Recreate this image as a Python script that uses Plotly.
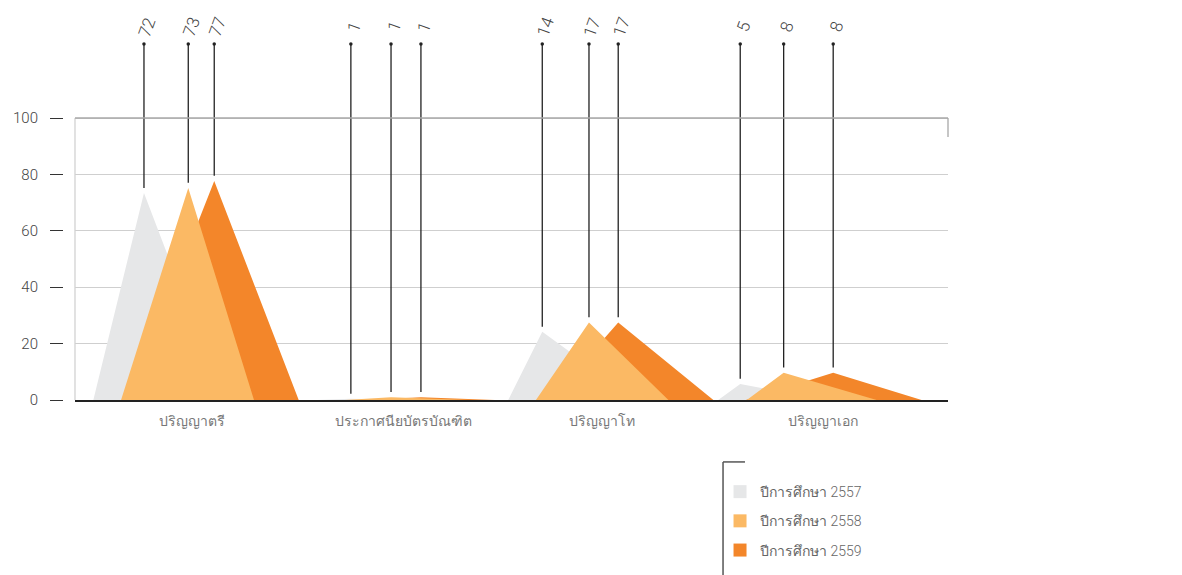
import plotly.graph_objects as go

# ---------------- data ----------------
categories = ["ปริญญาตรี", "ประกาศนียบัตรบัณฑิต", "ปริญญาโท", "ปริญญาเอก"]
series_names = ["ปีการศึกษา 2557", "ปีการศึกษา 2558", "ปีการศึกษา 2559"]

# printed values above the leader lines
label_2557 = [72, 1, 14, 5]
label_2558 = [73, 1, 17, 8]
label_2559 = [77, 1, 17, 8]

# drawn peak heights of the triangles (y axis units)
peak_2557 = [73.4, 0.4, 24.2, 5.7]
peak_2558 = [75.2, 1.0, 27.5, 9.7]
peak_2559 = [77.7, 1.0, 27.5, 9.7]

y_tick_values = [0, 20, 40, 60, 80, 100]

# ---------------- geometry / style (category-unit offsets) ----------------
apex_off = {
    0: [-0.184, -0.236, -0.359, -0.452],
    1: [0.019, -0.052, -0.145, -0.253],
    2: [0.138, 0.085, -0.011, -0.026],
}
left_off = {
    0: [-0.416, -0.391, -0.515, -0.553],
    1: [-0.289, -0.263, -0.388, -0.422],
    2: [-0.257, -0.171, -0.323, -0.426],
}
right_off = {
    0: [0.178, 0.081, 0.071, -0.064],
    1: [0.320, 0.310, 0.219, 0.173],
    2: [0.525, 0.424, 0.425, 0.379],
}
cat_label_shift = [0.036, 0.007, -0.085, -0.073]
colors = ["#e6e7e8", "#fbb964", "#f3862a"]
peaks = [peak_2557, peak_2558, peak_2559]
labels = [label_2557, label_2558, label_2559]

FONT = "Roboto, 'Noto Sans', 'DejaVu Sans', sans-serif"
LEADER_TOP = 126.2
LEADER_GAP = 1.8
Y_MAX = 392 / 2.82

fig = go.Figure()

# triangles: grey and dark orange behind, light orange on top
for s in [0, 2, 1]:
    xs, ys = [], []
    for c in range(len(categories)):
        xs += [c + left_off[s][c], c + apex_off[s][c], c + right_off[s][c], None]
        ys += [0, peaks[s][c], 0, None]
    fig.add_trace(go.Scatter(
        x=xs, y=ys, mode="lines", fill="toself", fillcolor=colors[s],
        line=dict(width=0, color=colors[s]), hoverinfo="skip", showlegend=False,
    ))

# leader lines
lx, ly, tx, ty = [], [], [], []
for s in range(3):
    for c in range(len(categories)):
        xp = c + apex_off[s][c]
        lx += [xp, xp, None]
        ly += [peaks[s][c] + LEADER_GAP, LEADER_TOP, None]
        tx.append(xp)
        ty.append(LEADER_TOP)
fig.add_trace(go.Scatter(x=lx, y=ly, mode="lines", line=dict(color="#222222", width=1.3),
                         hoverinfo="skip", showlegend=False))
fig.add_trace(go.Scatter(x=tx, y=ty, mode="markers", marker=dict(color="#222222", size=3.5),
                         hoverinfo="skip", showlegend=False))

# value labels
for s in range(3):
    for c in range(len(categories)):
        fig.add_annotation(
            x=c + apex_off[s][c], y=132.3, xref="x", yref="y",
            text=str(labels[s][c]), showarrow=False, textangle=-70, xshift=3,
            font=dict(family=FONT, size=17, color="#444444", weight=300),
        )

# legend entries
for s in range(3):
    fig.add_trace(go.Scatter(
        x=[None], y=[None], mode="markers", name=series_names[s],
        marker=dict(symbol="square", size=13, color=colors[s]),
        legendgroup=f"g{s}", showlegend=True,
    ))

# plot frame details
fig.add_shape(type="line", xref="x domain", yref="y", x0=0, x1=0, y0=0, y1=100,
              line=dict(color="#d2d2d2", width=1.3))
fig.add_shape(type="line", xref="x domain", yref="y", x0=0, x1=1, y0=100, y1=100,
              line=dict(color="#a8a8a8", width=1.3))
fig.add_shape(type="line", xref="x domain", yref="y", x0=1, x1=1, y0=100, y1=93.3,
              line=dict(color="#a8a8a8", width=1.3))
# legend bracket
fig.add_shape(type="line", xref="paper", yref="paper", x0=0.7458, x1=0.7458, y0=-0.158, y1=-0.48,
              line=dict(color="#555555", width=1.5))
fig.add_shape(type="line", xref="paper", yref="paper", x0=0.7458, x1=0.7706, y0=-0.158, y1=-0.158,
              line=dict(color="#555555", width=1.5))

fig.update_layout(
    width=1182, height=575,
    margin=dict(l=55, r=242, t=0, b=183),
    paper_bgcolor="white", plot_bgcolor="white",
    font=dict(family=FONT, color="#555555"),
    xaxis=dict(
        domain=[12 / 885, 1], range=[-0.5, 3.5],
        tickvals=[c + cat_label_shift[c] for c in range(len(categories))],
        ticktext=categories,
        showgrid=False, zeroline=False,
        showline=True, linecolor="#222222", linewidth=2,
        ticks="", ticklabelstandoff=7,
        tickfont=dict(family=FONT, size=14, color="#777777", weight=300),
    ),
    yaxis=dict(
        range=[0, Y_MAX], anchor="free", position=0,
        tickvals=y_tick_values, ticktext=[str(v) for v in y_tick_values],
        showgrid=True, gridcolor="#cfcfcf", gridwidth=1.2, zeroline=False,
        showline=False, ticks="outside", ticklen=13, tickwidth=1.4, tickcolor="#333333",
        ticklabelstandoff=9,
        tickfont=dict(family=FONT, size=15, color="#444444", weight=300),
    ),
    showlegend=True,
    legend=dict(
        x=0.7424, y=-0.194, xanchor="left", yanchor="top",
        bgcolor="rgba(0,0,0,0)", tracegroupgap=8, traceorder="grouped",
        font=dict(family=FONT, size=14, color="#666666", weight=300),
    ),
    hovermode=False,
)

fig.write_html("out.html")
